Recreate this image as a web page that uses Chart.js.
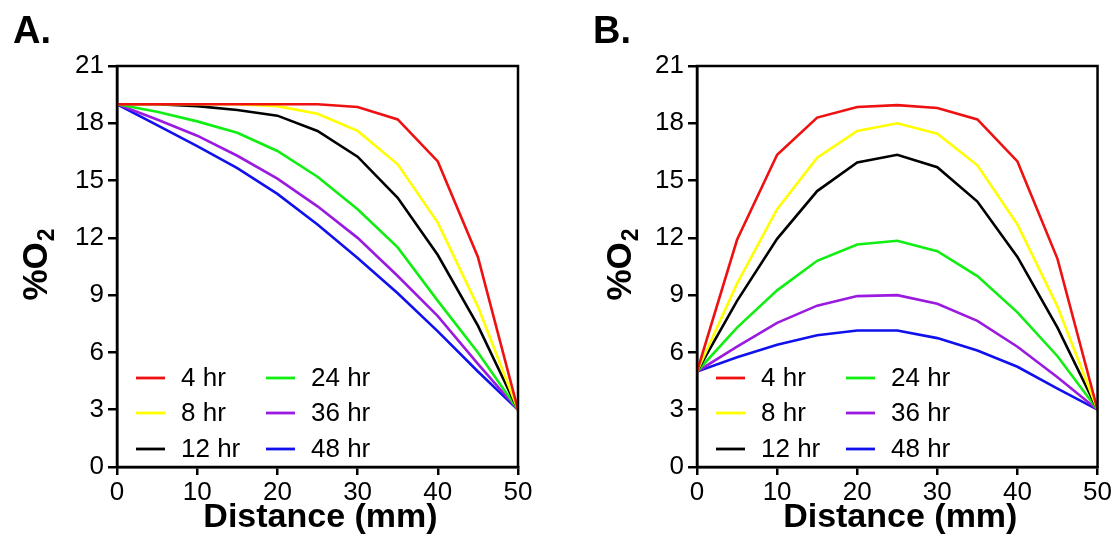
<!DOCTYPE html>
<html><head><meta charset="utf-8">
<script src="https://cdn.jsdelivr.net/npm/chart.js@4.4.1/dist/chart.umd.min.js"></script>
<style>
html,body{margin:0;padding:0;background:#fff;}
#wrap{position:relative;width:1114px;height:546px;overflow:hidden;}
.c{position:absolute;top:0;width:557px;height:546px;}
</style></head><body>
<div id="wrap">
<div class="c" style="left:0"><canvas id="a" width="557" height="546"></canvas></div>
<div class="c" style="left:557px"><canvas id="b" width="557" height="546"></canvas></div>
</div>
<script>
// ---- data ----
const distance = [0,5,10,15,20,25,30,35,40,45,50];
const seriesLabels = ['4 hr','8 hr','12 hr','24 hr','36 hr','48 hr'];
const seriesColors = ['#ee1111','#ffff00','#000000','#11ee11','#9a1ae0','#1111ee'];
const xTicks = [0,10,20,30,40,50];
const yTicks = [0,3,6,9,12,15,18,21];

// Panel A
const a4  = [19,19,19,19,19,19,18.85,18.2,16.0,11.0,3];
const a8  = [19,19,19,19,18.9,18.5,17.6,15.85,12.8,8.4,3];
const a12 = [19,19,18.9,18.7,18.4,17.6,16.25,14.1,11.1,7.4,3];
const a24 = [19,18.6,18.1,17.5,16.55,15.2,13.5,11.5,8.7,6.0,3];
const a36 = [19,18.2,17.35,16.3,15.1,13.65,12.0,10.0,7.9,5.4,3];
const a48 = [19,17.9,16.8,15.65,14.3,12.7,10.95,9.1,7.1,5.0,3];

// Panel B
const b4  = [5,11.9,16.35,18.3,18.85,18.95,18.8,18.2,16.0,10.9,3];
const b8  = [5,9.6,13.5,16.2,17.6,18.0,17.45,15.8,12.7,8.4,3];
const b12 = [5,8.7,11.95,14.45,15.95,16.35,15.7,13.9,11.0,7.3,3];
const b24 = [5,7.3,9.25,10.8,11.65,11.85,11.3,10.0,8.1,5.8,3];
const b36 = [5,6.3,7.55,8.45,8.95,9.0,8.55,7.65,6.3,4.7,3];
const b48 = [5,5.75,6.4,6.9,7.15,7.15,6.75,6.1,5.25,4.1,3];

const panelASeries = [a4,a8,a12,a24,a36,a48];
const panelBSeries = [b4,b8,b12,b24,b36,b48];

const FONT = "'Liberation Sans', Arial, sans-serif";

function makeDeco(opts){
  return {
    id:'deco',
    afterDraw(chart){
      const ctx = chart.ctx, a = chart.chartArea;
      ctx.save();
      // frame
      ctx.strokeStyle = '#000'; ctx.lineWidth = 2.5;
      ctx.strokeRect(a.left, a.top, a.right - a.left, a.bottom - a.top);
      ctx.fillStyle = '#000';
      // panel letter
      ctx.font = 'bold 38px ' + FONT;
      ctx.textBaseline = 'alphabetic'; ctx.textAlign = 'left';
      ctx.fillText(opts.letter, opts.letterX, 43);
      // x title
      ctx.font = 'bold 34px ' + FONT;
      ctx.textAlign = 'center';
      ctx.fillText('Distance (mm)', (a.left + a.right) / 2 + 3, 527);
      // y title with subscript
      ctx.save();
      ctx.translate(opts.yTitleX, (a.top + a.bottom) / 2 - 2);
      ctx.rotate(-Math.PI / 2);
      ctx.textAlign = 'left';
      ctx.font = 'bold 35px ' + FONT;
      const w1 = ctx.measureText('%O').width;
      ctx.font = 'bold 23px ' + FONT;
      const w2 = ctx.measureText('2').width;
      const start = -(w1 + w2 + 1) / 2;
      ctx.font = 'bold 35px ' + FONT;
      ctx.fillText('%O', start, 0);
      ctx.font = 'bold 23px ' + FONT;
      ctx.fillText('2', start + w1 + 1, 7);
      ctx.restore();
      // legend
      const rows = [378, 413, 449];
      ctx.font = '26px ' + FONT;
      ctx.textAlign = 'left'; ctx.textBaseline = 'middle';
      chart.data.datasets.forEach((ds, i) => {
        const col = Math.floor(i / 3), row = i % 3;
        const x0 = a.left + (col === 0 ? 19 : 149);
        const y = rows[row];
        ctx.strokeStyle = ds.borderColor; ctx.lineWidth = 2.8;
        ctx.beginPath(); ctx.moveTo(x0, y); ctx.lineTo(x0 + 29, y); ctx.stroke();
        ctx.fillStyle = '#000';
        ctx.fillText(ds.label, x0 + 45, y + 1);
      });
      ctx.restore();
    }
  };
}

function makeChart(id, series, plotLeft, padRight, deco){
  const datasets = series.map((s, i) => ({
    label: seriesLabels[i],
    data: distance.map((d, j) => ({x: d, y: s[j]})),
    borderColor: seriesColors[i],
    backgroundColor: seriesColors[i],
    borderWidth: 2.6,
    pointRadius: 0,
    tension: 0,
    fill: false
  }));
  return new Chart(document.getElementById(id), {
    type: 'line',
    data: { datasets },
    options: {
      responsive: false,
      animation: false,
      devicePixelRatio: 1,
      layout: { padding: { top: 66, right: padRight, left: 0, bottom: 0 } },
      plugins: { legend: { display: false }, tooltip: { enabled: false } },
      scales: {
        x: {
          type: 'linear', min: 0, max: 50,
          afterBuildTicks: (sc) => { sc.ticks = xTicks.map(v => ({value: v})); },
          afterFit: (sc) => { sc.height = 79; },
          ticks: { color: '#000', font: { family: FONT, size: 26 }, padding: 2, maxRotation: 0, autoSkip: false },
          grid: { drawOnChartArea: false, drawTicks: true, tickLength: 8, color: '#000', lineWidth: 2.5 },
          border: { display: true, color: '#000', width: 2.5 }
        },
        y: {
          type: 'linear', min: 0, max: 21,
          afterBuildTicks: (sc) => { sc.ticks = yTicks.map(v => ({value: v})); },
          afterFit: (sc) => { sc.width = plotLeft; },
          ticks: { color: '#000', font: { family: FONT, size: 26 }, padding: 4, autoSkip: false },
          grid: { drawOnChartArea: false, drawTicks: true, tickLength: 9, color: '#000', lineWidth: 2.5 },
          border: { display: true, color: '#000', width: 2.5 }
        }
      }
    },
    plugins: [deco]
  });
}

makeChart('a', panelASeries, 117, 39, makeDeco({letter: 'A.', letterX: 13, yTitleX: 47}));
makeChart('b', panelBSeries, 140, 16, makeDeco({letter: 'B.', letterX: 36, yTitleX: 74}));
</script>
</body></html>
